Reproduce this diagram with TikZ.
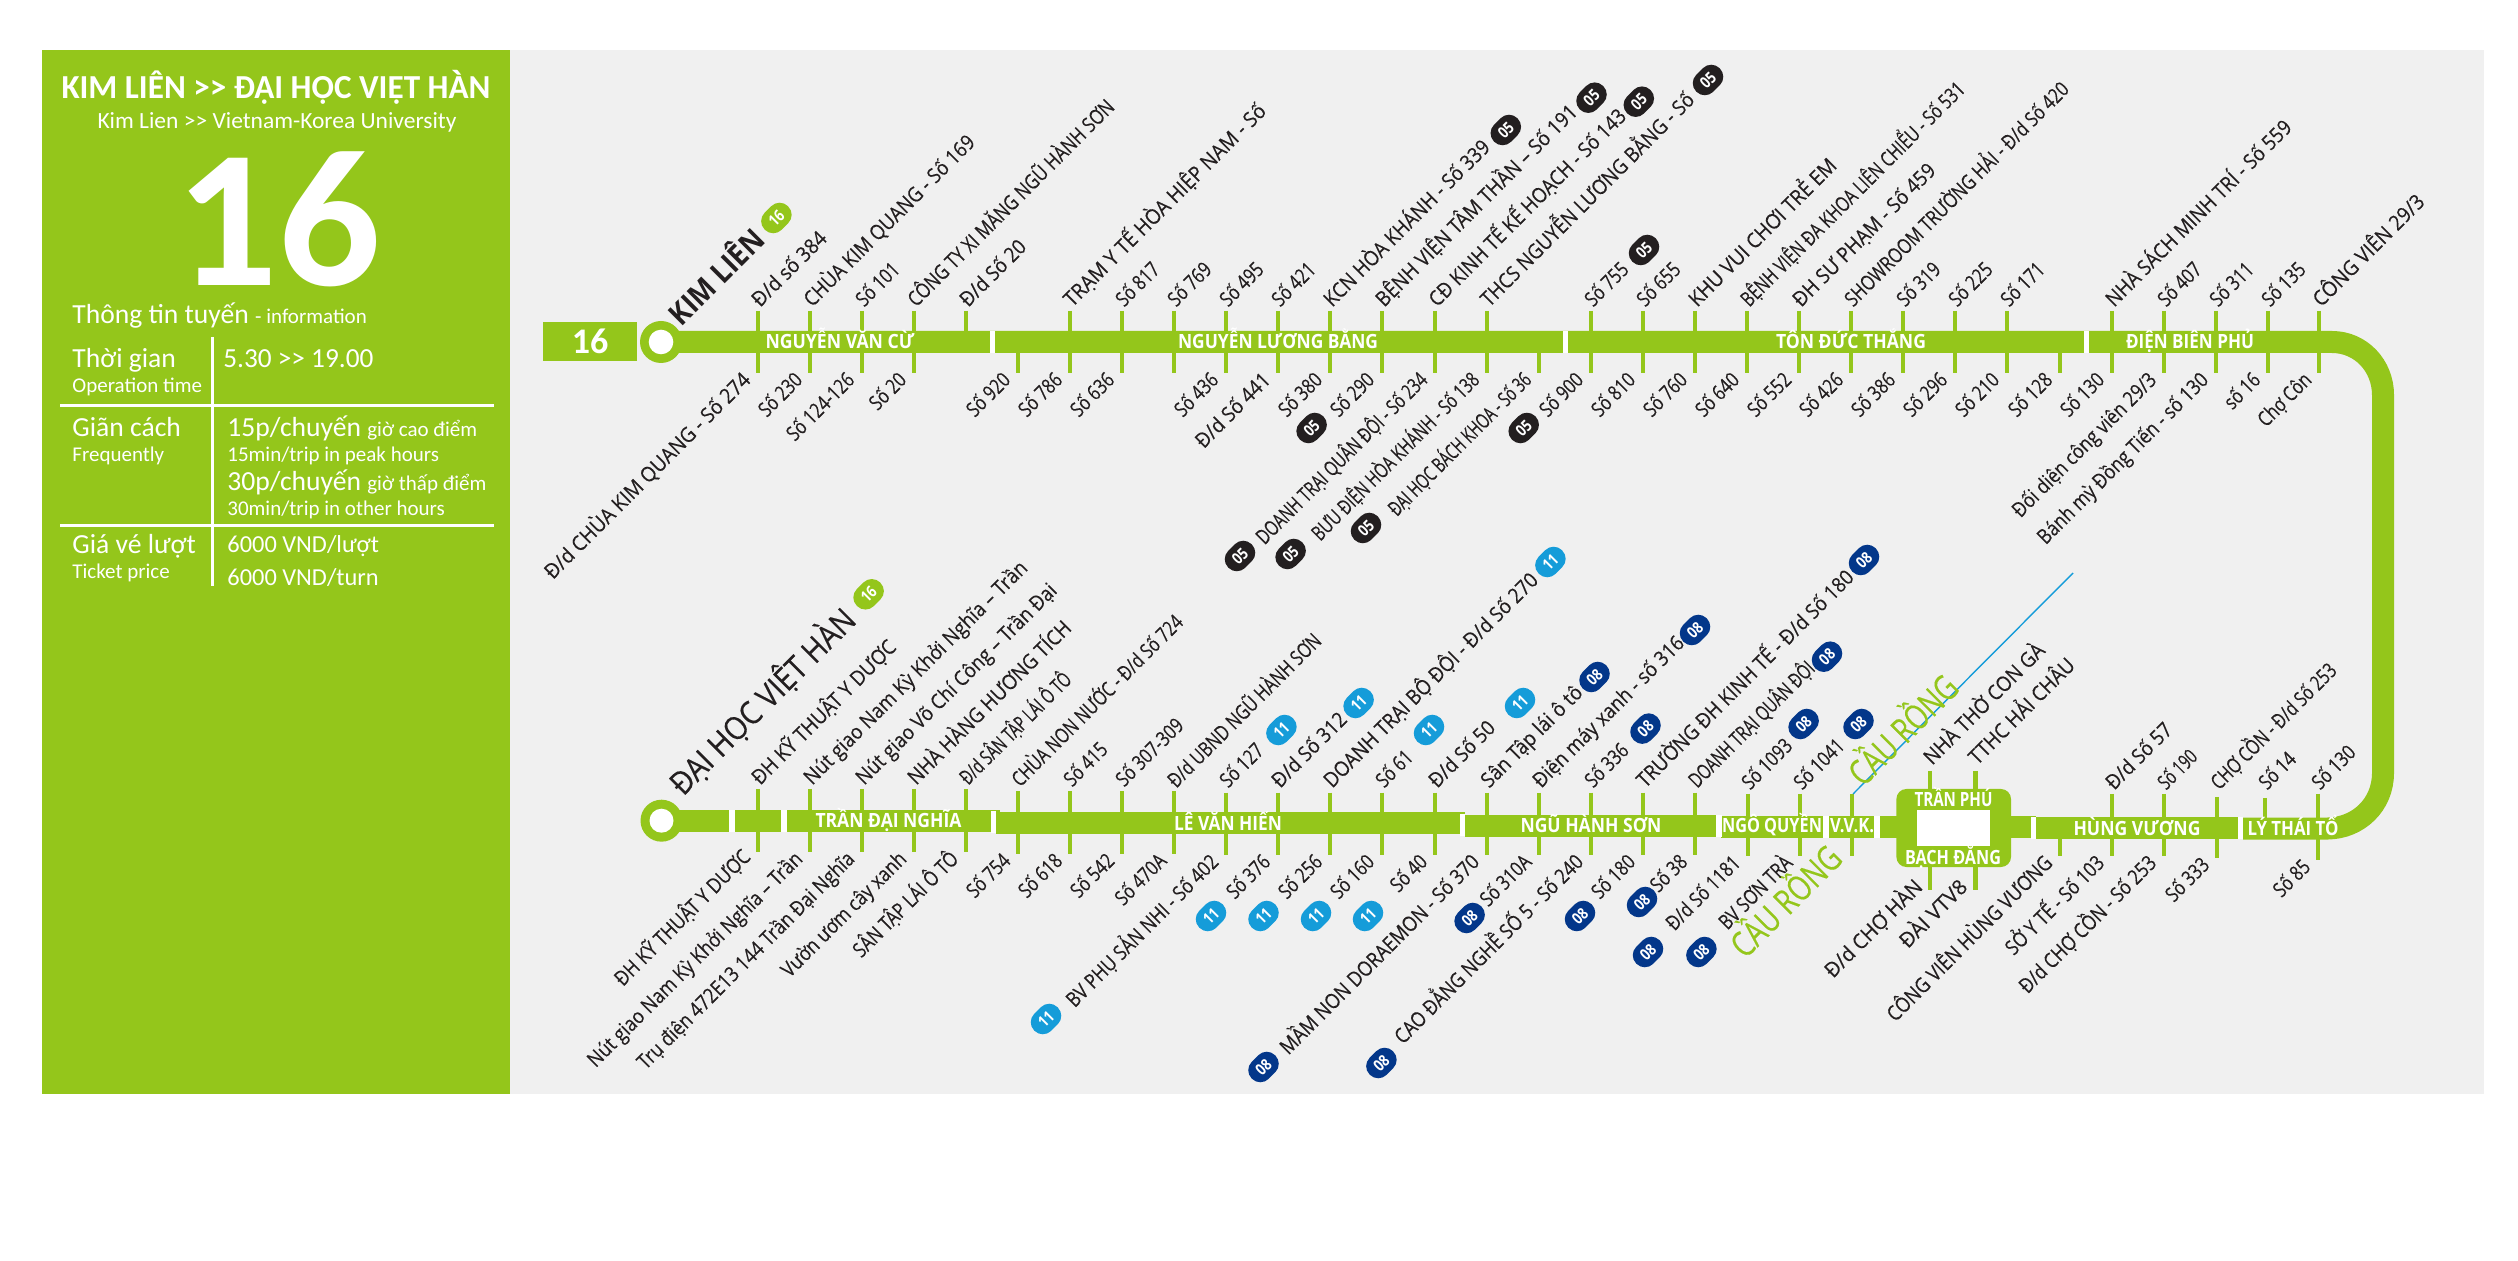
\documentclass[tikz,border=0pt]{standalone}
\usepackage{fontspec}
\usepackage{graphicx}
\setmainfont{Carlito}
\newfontfamily\lab[FakeStretch=0.8,FakeBold=0.25]{Open Sans}
\newfontfamily\labb[FakeStretch=0.83]{Open Sans}
\definecolor{busgreen}{HTML}{94C61B}
\definecolor{panelgray}{HTML}{F0F0F0}
\definecolor{ink}{HTML}{231F20}
\definecolor{cyanb}{HTML}{159CD9}
\definecolor{navyb}{HTML}{03378A}
\newcounter{nn}
\newsavebox{\fb}
\newcommand{\fs}[1]{\fontsize{#1}{#1}\selectfont}
\newcommand{\fit}[2]{\sbox{\fb}{#2}\scalebox{\fpeval{#1*0.5pt/\the\wd\fb}}[1]{\usebox{\fb}}}
\tikzset{
 lblup/.style={rotate=45,anchor=base west,inner sep=0pt,text=ink,font=\lab\fs{10.4}},
 lbldn/.style={rotate=45,anchor=base east,inner sep=0pt,text=ink,font=\lab\fs{10.4}},
 badge/.style={rotate=45,rectangle,rounded corners=5.9pt,minimum width=16.5pt,minimum height=12pt,inner sep=0pt,text=white,font=\labb\fs{8}\bfseries},
 street/.style={anchor=base,inner sep=0pt,text=white,font=\labb\fs{9.8}\bfseries},
 info/.style={anchor=base west,inner sep=0pt,text=white},
 big/.style={font=\fs{13.8}},
 small/.style={font=\fs{10.5}},
 ticks/.style={draw=busgreen,line width=2.25pt},
 route/.style={draw=busgreen,line width=11pt},
}
\newcommand{\up}[3]{\stepcounter{nn}\node[lblup] (n\arabic{nn}) at (#1+2,#2) {#3};}
\newcommand{\dn}[3]{\stepcounter{nn}\node[lbldn] (n\arabic{nn}) at (#1-6,#2) {#3};}
\newcommand{\tk}[3]{\draw[ticks] (#1,#2) -- (#1,#3);}
\newcommand{\bk}[2]{\stepcounter{nn}\node[badge,fill=ink] (n\arabic{nn}) at (#1,#2) {05};}
\newcommand{\cy}[2]{\stepcounter{nn}\node[badge,fill=cyanb] (n\arabic{nn}) at (#1,#2) {11};}
\newcommand{\nv}[2]{\stepcounter{nn}\node[badge,fill=navyb] (n\arabic{nn}) at (#1,#2) {08};}
\newcommand{\gr}[2]{\stepcounter{nn}\node[badge,fill=busgreen] (n\arabic{nn}) at (#1,#2) {16};}
\newcommand{\gap}[3]{\fill[white] (#1,#3-11) rectangle (#2,#3+11);}
\newcommand{\seg}[3]{\fill[busgreen] (#1,#3-11) rectangle (#2,#3+11);}
\newcommand{\st}[4]{\stepcounter{nn}\node[street] (n\arabic{nn}) at (#1,#2) {\fit{#3}{#4}};}
\begin{document}
\begin{tikzpicture}[x=0.5pt,y=-0.5pt]
\useasboundingbox (0,0) rectangle (2518,1261);
\fill[white] (0,0) rectangle (2518,1261);
\fill[panelgray] (510,50) rectangle (2484,1094);
\fill[busgreen] (42,50) rectangle (510,1094);
% panel text
\node[inner sep=0pt,text=white,font=\fs{16.8}\bfseries] (title) at (276,87) {\fit{429}{KIM LIÊN >{}> ĐẠI HỌC VIỆT HÀN}};
\node[inner sep=0pt,text=white,font=\fs{11.6},anchor=base] (subtitle) at (277,129) {\fit{359}{Kim Lien >{}> Vietnam-Korea University}};
\node[inner sep=0pt,text=white,font=\fs{98}\bfseries,anchor=base] (bignum) at (278,286) {\fit{205}{16}};
\node[info,big] (inf) at (72,324) {Thông tin tuyến {\fs{10.5}- information}};
\draw[white,line width=1.5pt] (212.7,337) -- (212.7,586);
\draw[white,line width=1.5pt] (60,405.7) -- (494,405.7);
\draw[white,line width=1.5pt] (60,525.7) -- (494,525.7);
\node[info,big] (t1) at (72,368) {Thời gian};
\node[info,small] (t2) at (72,393) {Operation time};
\node[info,big] (t3) at (223,367.5) {\fit{150}{5.30 >{}> 19.00}};
\node[info,big] (t4) at (72,436.4) {Giãn cách};
\node[info,small] (t5) at (72,462) {Frequently};
\node[info,big] (t6) at (227,436.6) {15p/chuyến {\fs{10.5}giờ cao điểm}};
\node[info,small] (t7) at (227,462) {15min/trip in peak hours};
\node[info,big] (t8) at (227,490.7) {30p/chuyến {\fs{10.5}giờ thấp điểm}};
\node[info,small] (t9) at (227,515.7) {30min/trip in other hours};
\node[info,big] (t10) at (72,553.6) {Giá vé lượt};
\node[info,small] (t11) at (72,579) {Ticket price};
\node[info,font=\fs{12.2}] (t12) at (227,553) {6000 VND/lượt};
\node[info,font=\fs{12.2}] (t13) at (227,586) {6000 VND/turn};
% route
\fill[busgreen] (543,322) rectangle (637,361);
\node[inner sep=0pt,text=white,font=\fs{18}\bfseries] (routebox) at (590,341) {16};
\draw[route] (661,342) -- (2332,342) .. controls (2361,342) and (2383,366) .. (2383,395) -- (2383,773) .. controls (2383,805) and (2358,828) .. (2328,828.5) -- (2243,828.5);
\seg{661}{1000}{820.5}
\seg{996}{1465}{823}
\seg{1465}{1721}{825.5}
\seg{1721}{1900}{826.5}
\seg{2000}{2036}{826.5}
\seg{2036}{2243}{827.5}
\foreach \g in {990,1563,2083.5}{\fill[white] (\g,331) rectangle (\g+5,353);}
\gap{729}{734.7}{820.5}\gap{781}{787}{820.5}\gap{991}{996}{822}
\gap{1460}{1465}{824.5}\gap{1716}{1721.5}{826}\gap{1823}{1829}{826.5}\gap{1874}{1879.5}{826.5}
\gap{2031}{2036}{827.5}\gap{2238}{2243}{828}
% ends
\fill[busgreen] (661,342) circle[radius=10.5pt];
\fill[white] (661,342) circle[radius=6.15pt];
\fill[busgreen] (661.5,820.7) circle[radius=10.5pt];
\fill[white] (661.5,820.7) circle[radius=6pt];
\fill[busgreen,rounded corners=5pt] (1896.4,789) rectangle (2011,867);
\fill[white] (1917,810) rectangle (1990,845.7);
% top ticks
\foreach \x in {758,810,862,914,966,1070,1122,1174,1226,1278,1330,1382,1435,1487,1591,1643,1695,1747,1799,1851,1903,1955,2007,2112,2164,2216,2268,2319}{\draw[ticks] (\x,311) -- (\x,335);}
\foreach \x in {758,810,862,914,1018,1070,1122,1174,1226,1278,1330,1382,1435,1487,1539,1591,1643,1695,1747,1799,1851,1903,1955,2007,2060,2112,2164,2216,2268,2319}{\draw[ticks] (\x,350) -- (\x,373);}
% lower ticks
\foreach \x in {758,810,862,914,966}{\draw[ticks] (\x,789) -- (\x,852);}
\foreach \x in {1018,1070,1122,1174}{\draw[ticks] (\x,791.5) -- (\x,854);}
\foreach \x in {1226,1278,1330,1382,1435,1487,1539,1591,1643,1695}{\draw[ticks] (\x,792.7) -- (\x,855);}
\foreach \x in {1748,1800,1852,2112,2164}{\draw[ticks] (\x,794) -- (\x,856);}
\tk{2217}{797}{858}\tk{2265}{798}{820}\tk{2318}{794}{860}\tk{2060}{835}{856}
\foreach \x in {1930,1975.4}{\draw[ticks] (\x,771) -- (\x,792);\draw[ticks] (\x,865) -- (\x,890);}
% blue line
\coordinate (bluefoot) at (1853,794);
\coordinate (bluehead) at (2073,573);
\draw[cyanb,line width=0.7pt] (bluefoot) -- (bluehead);
% street names
\st{840}{349}{149}{NGUYỄN VĂN CỪ}
\st{1278}{349}{200}{NGUYỄN LƯƠNG BẰNG}
\st{1851}{349}{150}{TÔN ĐỨC THẮNG}
\st{2190}{349}{128}{ĐIỆN BIÊN PHỦ}
\st{888.5}{827.7}{146}{TRẦN ĐẠI NGHĨA}
\st{1228}{830.7}{108}{LÊ VĂN HIẾN}
\st{1591}{833}{141}{NGŨ HÀNH SƠN}
\st{1772}{832.7}{100}{NGÔ QUYỀN}
\st{1852}{832.7}{44}{V.V.K.}
\st{1953.5}{806.7}{78}{TRẦN PHÚ}
\st{1953}{864}{96}{BẠCH ĐẰNG}
\st{2137}{835}{127}{HÙNG VƯƠNG}
\st{2293}{835.7}{91}{LÝ THÁI TỔ}
% termini
\node[rotate=45,anchor=base west,inner sep=0pt,text=ink,font=\labb\fs{15}\bfseries] (kimlien) at (681,328) {\fit{121}{KIM LIÊN}};
\node[rotate=45,anchor=base west,inner sep=0pt,text=ink,font=\lab\fs{16}] (dhvh) at (683,797) {\fit{247}{ĐẠI HỌC VIỆT HÀN}};
\gr{776.4}{218}\gr{868.6}{594.3}
\node[rotate=45,anchor=base west,inner sep=0pt,text=busgreen,font=\lab\fs{17.5}] (caurong1) at (1863,788) {\fit{138}{CẦU RỒNG}};
\node[rotate=45,anchor=base west,inner sep=0pt,text=busgreen,font=\lab\fs{17.5}] (caurong2) at (1745,960) {\fit{140}{CẦU RỒNG}};
% top row upper labels
\up{758}{308}{\fit{96}{Đ/d số 384}}
\up{810}{308}{\fit{232}{CHÙA KIM QUANG - Số 169}}
\up{862}{308}{Số 101}
\up{914}{308}{\fit{282}{CÔNG TY XI MĂNG NGŨ HÀNH SƠN}}
\up{966}{308}{\fit{84}{Đ/d Số 20}}
\up{1070}{308}{\fit{276}{TRẠM Y TẾ HÒA HIỆP NAM - Số}}
\up{1122}{308}{Số 817}
\up{1174}{308}{Số 769}
\up{1226}{308}{Số 495}
\up{1278}{308}{Số 421}
\up{1330}{308}{\fit{225}{KCN HÒA KHÁNH - Số 339}}
\up{1382}{308}{\fit{275}{BỆNH VIỆN TÂM THẦN – Số 191}}
\up{1435}{308}{\fit{269}{CĐ KINH TẾ KẾ HOẠCH - Số 143}}
\up{1487}{308}{\fit{292}{THCS NGUYỄN LƯƠNG BẰNG - Số}}
\up{1591}{308}{Số 755}
\up{1643}{308}{Số 655}
\up{1695}{308}{\fit{199}{KHU VUI CHƠI TRẺ EM}}
\up{1747}{308}{\fit{307}{BỆNH VIỆN ĐA KHOA LIÊN CHIỂU - Số 531}}
\up{1799}{308}{\fit{192}{ĐH SƯ PHẠM - Số 459}}
\up{1851}{308}{\fit{307}{SHOWROOM TRƯỜNG HẢI - Đ/d Số 420}}
\up{1903}{308}{Số 319}
\up{1955}{308}{Số 225}
\up{2007}{308}{Số 171}
\up{2112}{308}{\fit{253}{NHÀ SÁCH MINH TRÍ - Số 559}}
\up{2164}{308}{Số 407}
\up{2216}{308}{Số 311}
\up{2268}{308}{Số 135}
\up{2319}{308}{\fit{148}{CÔNG VIÊN 29/3}}
% top row lower labels
\dn{758}{381}{\fit{281}{Đ/d CHÙA KIM QUANG - Số 274}}
\dn{810}{381}{Số 230}
\dn{862}{381}{Số 124-126}
\dn{914}{381}{Số 20}
\dn{1018}{381}{Số 920}
\dn{1070}{381}{Số 786}
\dn{1122}{381}{Số 636}
\dn{1226}{381}{Số 436}
\dn{1278}{381}{\fit{96}{Đ/d Số 441}}
\dn{1330}{381}{Số 380}
\dn{1382}{381}{Số 290}
\dn{1435}{381}{\fit{232}{DOANH TRẠI QUÂN ĐỘI - Số 234}}
\dn{1487}{381}{\fit{227}{BƯU ĐIỆN HÒA KHÁNH - Số 138}}
\dn{1539}{381}{\fit{192}{ĐẠI HỌC BÁCH KHOA - Số 36}}
\dn{1591}{381}{Số 900}
\dn{1643}{381}{Số 810}
\dn{1695}{381}{Số 760}
\dn{1747}{381}{Số 640}
\dn{1799}{381}{Số 552}
\dn{1851}{381}{Số 426}
\dn{1903}{381}{Số 386}
\dn{1955}{381}{Số 296}
\dn{2007}{381}{Số 210}
\dn{2060}{381}{Số 128}
\dn{2112}{381}{Số 130}
\dn{2164}{381}{\fit{194}{Đối diện công viên 29/3}}
\dn{2216}{381}{\fit{232}{Bánh mỳ Đồng Tiến - số 130}}
\dn{2268}{381}{số 16}
\dn{2319}{381}{\fit{66}{Chợ Côn}}
% lower row upper labels
\up{758}{786}{\fit{194}{ĐH KỸ THUẬT Y DƯỢC}}
\up{810}{786}{\fit{306}{Nút giao Nam Kỳ Khởi Nghĩa – Trần}}
\up{862}{786}{\fit{274}{Nút giao Võ Chí Công – Trần Đại}}
\up{914}{786}{\fit{221}{NHÀ HÀNG HƯƠNG TÍCH}}
\up{966}{786}{\fit{148}{Đ/d SÂN TẬP LÁI Ô TÔ}}
\up{1018}{788}{\fit{232}{CHÙA NON NƯỚC - Đ/d Số 724}}
\up{1070}{788}{Số 415}
\up{1122}{788}{Số 307-309}
\up{1174}{789}{\fit{207}{Đ/d UBND NGŨ HÀNH SƠN}}
\up{1226}{789}{Số 127}
\up{1278}{789}{\fit{96}{Đ/d Số 312}}
\up{1330}{789}{\fit{293}{DOANH TRẠI BỘ ĐỘI - Đ/d Số 270}}
\up{1382}{789}{Số 61}
\up{1435}{789}{\fit{84}{Đ/d Số 50}}
\up{1487}{789}{\fit{134}{Sân Tập lái ô tô}}
\up{1539}{789}{\fit{204}{Điện máy xanh - số 316}}
\up{1591}{789}{Số 336}
\up{1643}{789}{\fit{297}{TRƯỜNG ĐH KINH TẾ - Đ/d Số 180}}
\up{1695}{789}{\fit{168}{DOANH TRẠI QUÂN ĐỘI}}
\up{1748}{791}{Số 1093}
\up{1800}{791}{Số 1041}
\up{1930}{766}{\fit{161}{NHÀ THỜ CON GÀ}}
\up{1975}{766}{\fit{140}{TTHC HẢI CHÂU}}
\up{2112}{791}{\fit{84}{Đ/d Số 57}}
\up{2164}{791}{\fit{46}{Số 190}}
\up{2217}{791}{\fit{168}{CHỢ CỒN - Đ/d Số 253}}
\up{2265}{791}{Số 14}
\up{2318}{791}{Số 130}
% lower row lower labels
\dn{758}{858}{\fit{182}{ĐH KỸ THUẬT Y DƯỢC}}
\dn{810}{860}{\fit{294}{Nút giao Nam Kỳ Khởi Nghĩa – Trần}}
\dn{862}{860}{\fit{297}{Trụ điện 472E13 144 Trần Đại Nghĩa}}
\dn{914}{860}{\fit{167}{Vườn ươm cây xanh}}
\dn{966}{860}{\fit{139}{SÂN TẬP LÁI Ô TÔ}}
\dn{1018}{862}{Số 754}
\dn{1070}{862}{Số 618}
\dn{1122}{862}{Số 542}
\dn{1174}{862}{Số 470A}
\dn{1226}{863}{\fit{205}{BV PHỤ SẢN NHI - Số 402}}
\dn{1278}{863}{Số 376}
\dn{1330}{863}{Số 256}
\dn{1382}{863}{Số 160}
\dn{1435}{863}{Số 40}
\dn{1487}{863}{\fit{272}{MẦM NON DORAEMON - Số 370}}
\dn{1539}{863}{Số 310A}
\dn{1591}{863}{\fit{257}{CAO ĐẲNG NGHỀ SỐ 5 - Số 240}}
\dn{1643}{863}{Số 180}
\dn{1695}{863}{Số 38}
\dn{1748}{864}{\fit{95}{Đ/d Số 1181}}
\dn{1800}{864}{BV SƠN TRÀ}
\dn{1930}{888}{\fit{128}{Đ/d CHỢ HÀN}}
\dn{1975}{888}{\fit{86}{ĐÀI VTV8}}
\dn{2060}{864}{\fit{224}{CÔNG VIÊN HÙNG VƯƠNG}}
\dn{2112}{864}{\fit{130}{SỞ Y TẾ - Số 103}}
\dn{2164}{864}{\fit{184}{Đ/d CHỢ CỒN - Số 253}}
\dn{2217}{866}{Số 333}
\dn{2318}{868}{Số 85}
% badges
\bk{1505.8}{130}\bk{1591.5}{97.7}\bk{1638.8}{101.7}\bk{1708}{80}\bk{1644}{250}
\bk{1311.6}{428}\bk{1523.7}{428}\bk{1240}{556}\bk{1290.6}{554}\bk{1366}{528}
\cy{1550.4}{562}\cy{1358.6}{703}\cy{1281.4}{730}\cy{1429}{730}\cy{1520}{703}
\cy{1211}{916}\cy{1263.5}{916}\cy{1316}{916}\cy{1368}{916}\cy{1046}{1019}
\nv{1864}{560}\nv{1695}{630}\nv{1594.5}{677}\nv{1645.5}{728.6}\nv{1469.6}{918}
\nv{1580}{916}\nv{1642}{902}\nv{1648}{952}\nv{1701.4}{952}\nv{1263.5}{1067}\nv{1381.4}{1063}
\nv{1827}{656.7}\nv{1803.6}{724}\nv{1858.5}{724}
\end{tikzpicture}
\end{document}
